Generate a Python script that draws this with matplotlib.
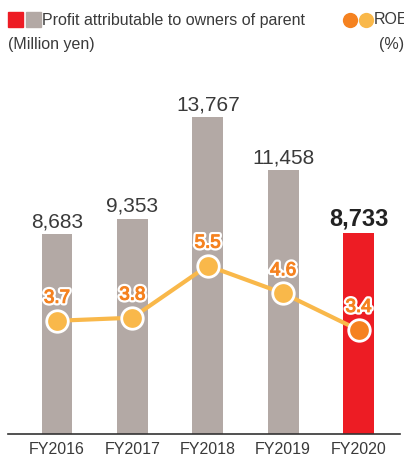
import matplotlib.pyplot as plt
import matplotlib.patheffects as pe

years = ["FY2016", "FY2017", "FY2018", "FY2019", "FY2020"]
profit = [8683, 9353, 13767, 11458, 8733]
roe = [3.7, 3.8, 5.5, 4.6, 3.4]

gray = "#b3a9a5"
red = "#ed1c24"
orange = "#f58220"
yellow = "#f9b84a"
txt = "#3a3a3a"

plt.rcParams["font.family"] = ["Liberation Sans", "DejaVu Sans"]

fig = plt.figure(figsize=(4.04, 4.59), dpi=100)
# axes from x=8..400 px, y from baseline 434 up to 100
ax = fig.add_axes([8 / 404, (459 - 434) / 459, 392 / 404, 334 / 459])

x = list(range(len(years)))
colors = [gray] * 4 + [red]
ax.bar(x, profit, width=0.41, color=colors, zorder=2)
ax.set_xlim(-0.65, 4.55)
ax.set_ylim(0, 334 / 0.02303)

for i, v in enumerate(profit):
    last = i == len(profit) - 1
    ax.text(i, v + 300, f"{v:,}", ha="center", va="baseline",
            fontsize=17 if last else 15,
            fontweight="bold" if last else "normal",
            color="#222222" if last else txt, clip_on=False)

for s in ["top", "right", "left"]:
    ax.spines[s].set_visible(False)
ax.spines["bottom"].set_color("#333333")
ax.spines["bottom"].set_linewidth(1.2)
ax.set_yticks([])
ax.set_xticks(x)
ax.set_xticklabels(years, fontsize=11.5, color=txt)
ax.tick_params(axis="x", length=0, pad=6)

# ROE on its own scale
ax2 = ax.twinx()
ax2.set_ylim(0, 334 / 30.6)
ax2.axis("off")
ax2.plot(x, roe, color=yellow, lw=3, zorder=3)
mcol = [yellow] * 4 + [orange]
for i, v in enumerate(roe):
    ax2.plot(i, v, "o", ms=15.5, mfc=mcol[i], mec="white", mew=2, zorder=4)
    ax2.text(i, v + 0.59, f"{v}", ha="center", va="baseline", fontsize=13.5,
             color=orange, zorder=5,
             path_effects=[pe.Stroke(linewidth=4, foreground="white"),
                           pe.Stroke(linewidth=0.8, foreground=orange),
                           pe.Normal()])

# legend header
fig.patches.append(plt.Rectangle((8 / 404, 1 - 27 / 459), 15 / 404, 15 / 459,
                                 transform=fig.transFigure, color=red))
fig.patches.append(plt.Rectangle((26 / 404, 1 - 27 / 459), 15 / 404, 15 / 459,
                                 transform=fig.transFigure, color=gray))
fig.text(42 / 404, 1 - 20 / 459, "Profit attributable to owners of parent",
         fontsize=11.5, color=txt, va="center")
fig.text(8 / 404, 1 - 45 / 459, "(Million yen)", fontsize=11.5,
         color=txt, va="center")
ax2.plot([349.5 / 404], [1 - 20 / 459], "o", ms=11,
         transform=fig.transFigure, clip_on=False, color=orange, mec="none")
ax2.plot([365.5 / 404], [1 - 20 / 459], "o", ms=11,
         transform=fig.transFigure, clip_on=False, color=yellow, mec="none")
fig.text(374 / 404, 1 - 20 / 459, "ROE", fontsize=11.5, color=txt,
         va="center")
fig.text(404 / 404, 1 - 45 / 459, "(%)", fontsize=11.5, color=txt,
         va="center", ha="right")

fig.savefig("out.png", dpi=100)
